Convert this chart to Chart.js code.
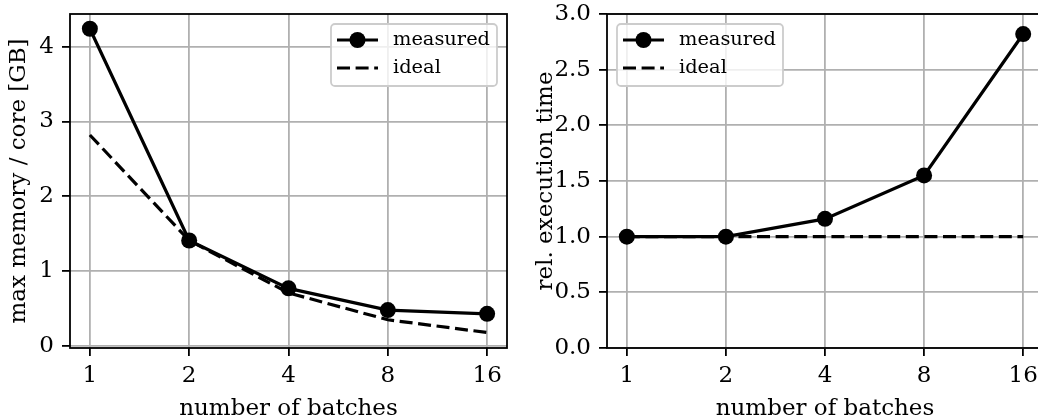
<!DOCTYPE html>
<html>
<head>
<meta charset="utf-8">
<script src="https://cdn.jsdelivr.net/npm/chart.js@4.4.0/dist/chart.umd.min.js"></script>
<style>
html, body { margin: 0; padding: 0; background: #fff; overflow: hidden; width: 1038px; height: 419px; }
#memChart { position: absolute; left: 0; top: 0; }
#timeChart { position: absolute; left: 520px; top: 0; }
</style>
</head>
<body>
<canvas id="memChart" width="520" height="419"></canvas>
<canvas id="timeChart" width="540" height="419"></canvas>
<script>
const batches = [1, 2, 4, 8, 16];
const seriesLabels = ["measured", "ideal"];
const memMeasured = [4.24, 1.41, 0.77, 0.48, 0.43];
const memIdeal = [2.82, 1.41, 0.71, 0.35, 0.18];
const timeMeasured = [1.0, 1.0, 1.16, 1.55, 2.82];
const timeIdeal = [1.0, 1.0, 1.0, 1.0, 1.0];
const memTicks = [0, 1, 2, 3, 4];
const timeTicks = [0, 0.5, 1.0, 1.5, 2.0, 2.5, 3.0];

const FONT = "DejaVu Serif";
const FS = 23;
const LEGEND_FS = 19.4;

function pts(ys) {
    return batches.map((b, i) => ({ x: b, y: ys[i] }));
}

// black box round the plot area, like matplotlib spines
const frame = {
    id: "frame",
    afterDatasetsDraw(chart) {
        const a = chart.chartArea;
        const ctx = chart.ctx;
        ctx.save();
        ctx.strokeStyle = "#000";
        ctx.lineWidth = 1.8;
        ctx.strokeRect(a.left, a.top, a.right - a.left, a.bottom - a.top);
        ctx.restore();
    },
};

// matplotlib looking legend inside the axes
const mplLegend = {
    id: "mplLegend",
    afterDraw(chart, args, opts) {
        const a = chart.chartArea;
        const ctx = chart.ctx;
        const w = 166, h = 62;
        const x = opts.side === "right" ? a.right - 10 - w : a.left + 10;
        const y = a.top + 10;
        ctx.save();
        ctx.beginPath();
        ctx.roundRect(x, y, w, h, 4);
        ctx.fillStyle = "rgba(255,255,255,0.8)";
        ctx.fill();
        ctx.strokeStyle = "#cccccc";
        ctx.lineWidth = 1.8;
        ctx.stroke();
        chart.data.datasets.forEach((ds, i) => {
            const cy = y + 16 + i * 28;
            ctx.beginPath();
            ctx.setLineDash(ds.borderDash || []);
            ctx.moveTo(x + 6, cy);
            ctx.lineTo(x + 47, cy);
            ctx.strokeStyle = ds.borderColor;
            ctx.lineWidth = ds.borderWidth;
            ctx.stroke();
            ctx.setLineDash([]);
            if (ds.pointRadius > 0) {
                ctx.beginPath();
                ctx.arc(x + 26.5, cy, ds.pointRadius, 0, 2 * Math.PI);
                ctx.fillStyle = ds.pointBackgroundColor;
                ctx.fill();
            }
            ctx.fillStyle = "#000";
            ctx.font = LEGEND_FS + "px '" + FONT + "'";
            ctx.textBaseline = "middle";
            ctx.textAlign = "left";
            ctx.fillText(ds.label, x + 62, cy);
        });
        ctx.restore();
    },
};

function makeChart(id, measured, ideal, cfg) {
    const gridOpts = {
        color: "#b0b0b0",
        lineWidth: 1.8,
        tickColor: "#000",
        tickLength: 8,
        tickWidth: 1.8,
    };
    return new Chart(document.getElementById(id), {
        type: "line",
        data: {
            datasets: [
                {
                    label: seriesLabels[0],
                    data: pts(measured),
                    borderColor: "#000",
                    borderWidth: 3.2,
                    pointRadius: 8,
                    pointBackgroundColor: "#000",
                    pointBorderWidth: 0,
                    order: 0,
                },
                {
                    label: seriesLabels[1],
                    data: pts(ideal),
                    borderColor: "#000",
                    borderWidth: 3.2,
                    borderDash: [13, 5.6],
                    pointRadius: 0,
                    order: 1,
                },
            ],
        },
        options: {
            responsive: false,
            animation: false,
            events: [],
            layout: {
                padding: { left: 0, top: 14, right: cfg.padRight, bottom: 0 },
            },
            scales: {
                x: {
                    type: "logarithmic",
                    min: Math.pow(2, -0.2),
                    max: Math.pow(2, 4.2),
                    afterBuildTicks: (s) => {
                        s.ticks = batches.map((v) => ({ value: v }));
                    },
                    afterFit: (s) => {
                        s.height = 71;
                        s.paddingLeft = 0;
                        s.paddingRight = 0;
                    },
                    grid: gridOpts,
                    border: { display: false },
                    ticks: {
                        color: "#000",
                        font: { family: FONT, size: FS },
                        padding: 6,
                        maxRotation: 0,
                        autoSkip: false,
                        callback: (v) => String(v),
                    },
                    title: {
                        display: true,
                        text: "number of batches",
                        color: "#000",
                        font: { family: FONT, size: FS },
                        padding: { top: 0, bottom: -4 },
                    },
                },
                y: {
                    type: "linear",
                    min: cfg.yMin,
                    max: cfg.yMax,
                    afterBuildTicks: (s) => {
                        s.ticks = cfg.yTicks.map((v) => ({ value: v }));
                    },
                    afterFit: (s) => {
                        s.width = cfg.yWidth;
                        s.paddingTop = 0;
                        s.paddingBottom = 0;
                    },
                    grid: gridOpts,
                    border: { display: false },
                    ticks: {
                        color: "#000",
                        font: { family: FONT, size: FS },
                        padding: 8,
                        callback: cfg.tickFmt,
                    },
                    title: {
                        display: true,
                        text: cfg.yTitle,
                        color: "#000",
                        font: { family: FONT, size: FS },
                        padding: { top: cfg.titlePad, bottom: 0 },
                    },
                },
            },
            plugins: {
                legend: { display: false },
                tooltip: { enabled: false },
                mplLegend: { side: cfg.legendSide },
            },
        },
        plugins: [frame, mplLegend],
    });
}

makeChart("memChart", memMeasured, memIdeal, {
    padRight: 13,
    yWidth: 70,
    yMin: -0.027,
    yMax: 4.437,
    yTicks: memTicks,
    tickFmt: (v) => String(v),
    yTitle: "max memory / core [GB]",
    titlePad: 5,
    legendSide: "right",
});

makeChart("timeChart", timeMeasured, timeIdeal, {
    padRight: 17,
    yWidth: 87,
    yMin: 0,
    yMax: 3.0,
    yTicks: timeTicks,
    tickFmt: (v) => v.toFixed(1),
    yTitle: "rel. execution time",
    titlePad: 12,
    legendSide: "left",
});
</script>
</body>
</html>
